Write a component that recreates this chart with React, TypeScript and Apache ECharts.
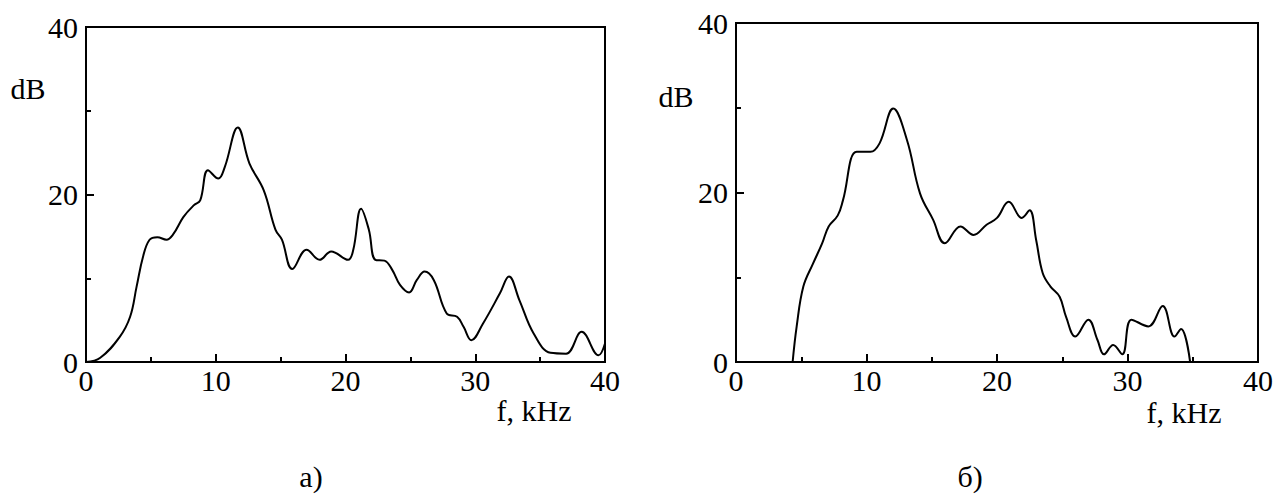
import React, { useEffect, useRef } from "react";
import * as echarts from "echarts";

// Spectrum a) : [f kHz, dB]
const freqA = [0, 1.1, 2.6, 3.4, 3.9, 4.4, 4.9, 5.5, 6.2, 6.7, 7.5, 8.3, 8.8, 9.4, 10.2, 10.7, 11.7, 12.6, 13.7, 14.6, 15.1, 15.9, 17.0, 18.0, 18.9, 20.2, 20.6, 21.2, 21.8, 22.3, 23.0, 23.6, 24.2, 24.9, 25.5, 26.1, 26.8, 27.8, 28.6, 29.1, 29.7, 30.6, 31.9, 32.6, 33.4, 34.5, 35.8, 37.0, 38.2, 39.5, 40.0];
const dbA = [0, 0.5, 3.0, 5.4, 9.0, 12.6, 14.6, 14.9, 14.6, 15.2, 17.3, 18.7, 19.3, 22.9, 21.9, 23.3, 28.0, 23.7, 20.5, 15.8, 14.6, 11.1, 13.4, 12.2, 13.2, 12.2, 13.4, 18.3, 15.8, 12.2, 12.1, 11.0, 9.2, 8.3, 9.8, 10.8, 9.8, 5.8, 5.4, 4.2, 2.6, 4.6, 8.2, 10.2, 7.4, 3.4, 1.1, 1.0, 3.6, 0.8, 2.2];

// Spectrum б) : [f kHz, dB]
const freqB = [4.34, 4.65, 5.16, 5.9, 6.6, 7.1, 7.8, 8.2, 9.25, 10.3, 11.0, 12.05, 13.1, 14.1, 15.1, 16.0, 17.2, 18.2, 19.2, 20.0, 20.9, 21.9, 22.5, 23.0, 23.5, 24.1, 24.8, 25.3, 26.0, 27.0, 27.7, 28.2, 28.9, 29.6, 30.3, 31.6, 32.7, 33.6, 34.1, 34.8];
const dbB = [0, 4.2, 8.9, 11.6, 14.0, 16.0, 17.3, 19.1, 24.8, 24.8, 25.8, 29.9, 26.2, 19.9, 16.8, 14.0, 16.0, 15.0, 16.2, 17.0, 18.9, 17.0, 17.9, 14.4, 10.5, 8.9, 7.7, 5.3, 3.0, 5.0, 2.6, 0.9, 2.0, 0.9, 5.0, 4.2, 6.6, 3.0, 3.9, 0];

const FONT = "Times New Roman, Liberation Serif, serif";
const FS = 30;

export default function App() {
  const ref = useRef<HTMLDivElement>(null);
  useEffect(() => {
    if (!ref.current) return;
    const chart = echarts.init(ref.current, undefined, { renderer: "svg" });

    const xAxisBase = (gridIndex: number) => ({
      type: "value",
      gridIndex,
      min: 0,
      max: 40,
      interval: 10,
      axisLine: { show: true, onZero: false, lineStyle: { color: "#000", width: 2 } },
      axisTick: { show: true, inside: true, length: 8, lineStyle: { color: "#000", width: 2 } },
      minorTick: { show: true, splitNumber: 2, length: 5, lineStyle: { color: "#000", width: 2 } },
      splitLine: { show: false },
      axisLabel: { color: "#000", fontFamily: FONT, fontSize: FS, margin: 3 },
    });
    const yAxisBase = (gridIndex: number) => ({
      type: "value",
      gridIndex,
      min: 0,
      max: 40,
      interval: 20,
      axisLine: { show: true, onZero: false, lineStyle: { color: "#000", width: 2 } },
      axisTick: { show: true, inside: true, length: 8, lineStyle: { color: "#000", width: 2 } },
      minorTick: { show: true, splitNumber: 2, length: 5, lineStyle: { color: "#000", width: 2 } },
      splitLine: { show: false },
      axisLabel: { color: "#000", fontFamily: FONT, fontSize: FS, margin: 8 },
    });

    const label = (text: string, x: number, y: number) => ({
      type: "text",
      x,
      y,
      style: {
        text,
        fill: "#000",
        fontFamily: FONT,
        fontSize: FS,
        textAlign: "center",
        textVerticalAlign: "middle",
      },
    });

    chart.setOption({
      animation: false,
      backgroundColor: "#fff",
      textStyle: { fontFamily: FONT },
      grid: [
        { left: 86, top: 27, width: 519, height: 335, show: true, borderColor: "#000", borderWidth: 2, backgroundColor: "transparent" },
        { left: 736, top: 23, width: 522, height: 339, show: true, borderColor: "#000", borderWidth: 2, backgroundColor: "transparent" },
      ],
      xAxis: [xAxisBase(0), xAxisBase(1)],
      yAxis: [yAxisBase(0), yAxisBase(1)],
      series: [
        {
          type: "line",
          xAxisIndex: 0,
          yAxisIndex: 0,
          data: freqA.map((f, i) => [f, dbA[i]]),
          smooth: 0.4,
          showSymbol: false,
          lineStyle: { color: "#000", width: 2 },
        },
        {
          type: "line",
          xAxisIndex: 1,
          yAxisIndex: 1,
          data: freqB.map((f, i) => [f, dbB[i]]),
          smooth: 0.4,
          showSymbol: false,
          lineStyle: { color: "#000", width: 2 },
        },
      ],
      graphic: [
        label("dB", 28, 88),
        label("dB", 676, 96),
        label("f, kHz", 534, 410),
        label("f, kHz", 1184, 412),
        label("а)", 311, 476),
        label("б)", 970, 476),
      ],
    });
    return () => chart.dispose();
  }, []);
  return (
    <div
      ref={ref}
      style={{ position: "fixed", left: 0, top: 0, width: 1279, height: 495 }}
    />
  );
}
